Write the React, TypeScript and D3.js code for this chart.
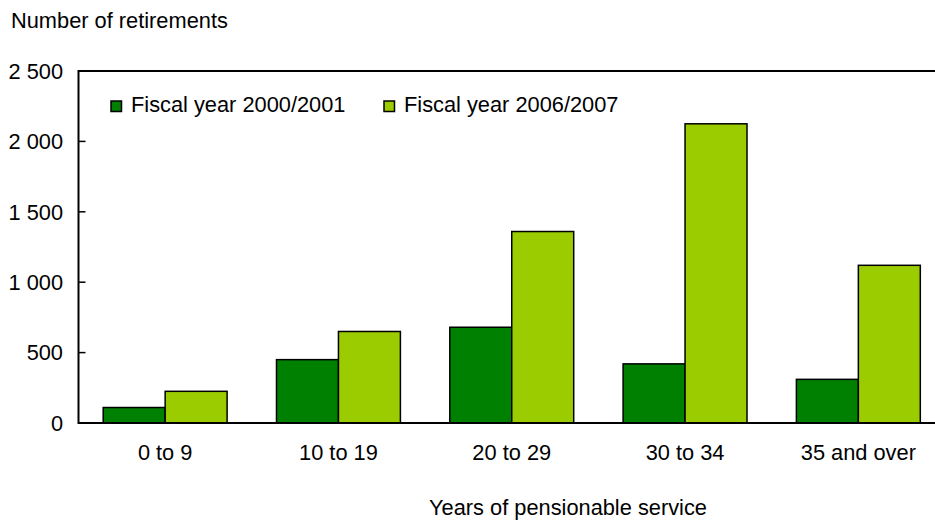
import React from "react";
import * as d3 from "d3";

// Retirements by years of pensionable service, two fiscal years
const categories = ["0 to 9", "10 to 19", "20 to 29", "30 to 34", "35 and over"];
const seriesNames = ["Fiscal year 2000/2001", "Fiscal year 2006/2007"];
const fy2000 = [110, 450, 680, 420, 310];
const fy2006 = [225, 650, 1360, 2125, 1120];
const yTicks = [0, 500, 1000, 1500, 2000, 2500];
const colors = ["#008000", "#9BCC00"];

const W = 935;
const H = 520;
const left = 78.5;
const right = 945;
const top = 71;
const bottom = 423;
const font = "'Liberation Sans', Arial, Helvetica, sans-serif";
const fs = 21.8;

const fmt = (v: number) => d3.format(",")(v).replace(/,/g, " ");

export default function App() {
  const x = d3
    .scaleBand<string>()
    .domain(categories)
    .range([left, right])
    .paddingInner(0.285)
    .paddingOuter(0.1425);
  const inner = d3
    .scaleBand<number>()
    .domain([0, 1])
    .range([0, x.bandwidth()]);
  const y = d3.scaleLinear().domain([0, 2500]).range([bottom, top]);
  const series = [fy2000, fy2006];
  const legendX = [111, 384];

  return (
    <svg
      width={W}
      height={H}
      style={{ position: "absolute", left: 0, top: 0, background: "#fff" }}
      fontFamily={font}
    >
      <text x={11} y={28} fontSize={fs} fill="#000">
        Number of retirements
      </text>

      {/* bars */}
      {categories.map((c, i) =>
        series.map((s, k) => (
          <rect
            key={c + k}
            x={(x(c) as number) + (inner(k) as number)}
            y={y(s[i])}
            width={inner.bandwidth()}
            height={bottom - y(s[i])}
            fill={colors[k]}
            stroke="#000"
            strokeWidth={1.5}
          />
        ))
      )}

      {/* y axis */}
      {yTicks.map((t) => (
        <g key={t}>
          <line x1={left} x2={left + 7} y1={y(t)} y2={y(t)} stroke="#000" strokeWidth={1.5} />
          <text
            x={63}
            y={y(t)}
            dy="0.36em"
            textAnchor="end"
            fontSize={fs}
            fill="#000"
          >
            {fmt(t)}
          </text>
        </g>
      ))}
      <line x1={left} x2={W} y1={top} y2={top} stroke="#000" strokeWidth={2} />
      <line x1={left} x2={W} y1={bottom} y2={bottom} stroke="#000" strokeWidth={2} />
      <line x1={left} x2={left} y1={top - 1} y2={bottom + 1} stroke="#000" strokeWidth={2} />

      {/* category labels */}
      {categories.map((c) => (
        <text
          key={c}
          x={(x(c) as number) + x.bandwidth() / 2}
          y={460}
          textAnchor="middle"
          fontSize={fs}
          fill="#000"
        >
          {c}
        </text>
      ))}

      <text x={568} y={515} textAnchor="middle" fontSize={fs} fill="#000">
        Years of pensionable service
      </text>

      {/* legend */}
      {seriesNames.map((n, k) => {
        const lx = legendX[k];
        return (
          <g key={n}>
            <rect x={lx} y={101} width={10.5} height={10.5} fill={colors[k]} stroke="#000" strokeWidth={1.5} />
            <text x={lx + 20} y={112} fontSize={fs} fill="#000">
              {n}
            </text>
          </g>
        );
      })}
    </svg>
  );
}
